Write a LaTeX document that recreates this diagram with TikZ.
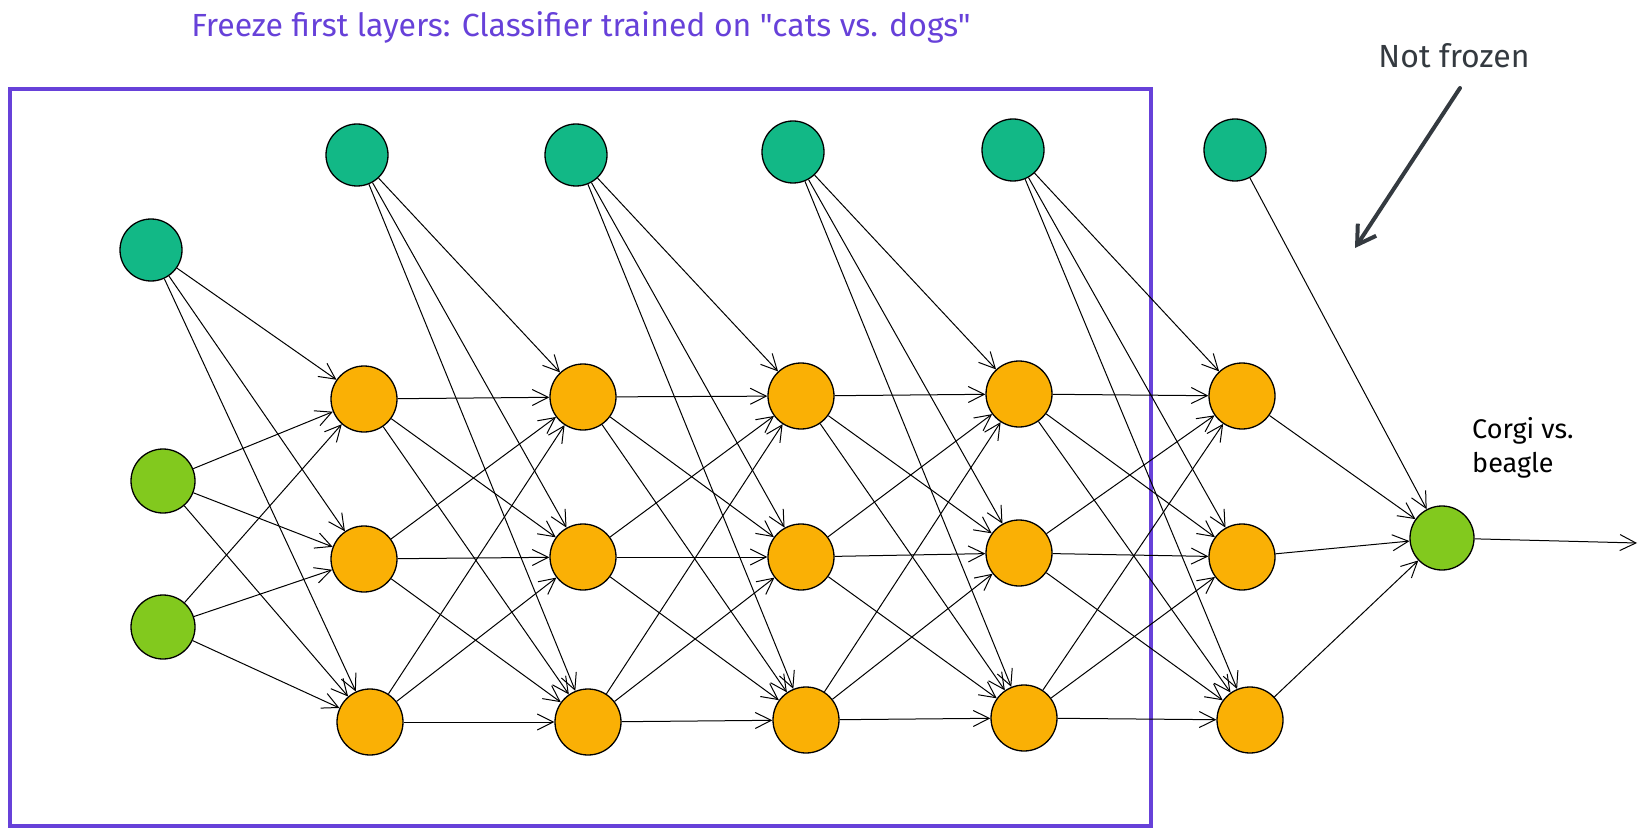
\documentclass[tikz,border=0pt]{standalone}
\usepackage{fontspec}
\setmainfont{Fira Sans}[Ligatures=TeXOff]
\usetikzlibrary{arrows.meta}
\definecolor{violetbox}{HTML}{6741D9}
\definecolor{tealnode}{HTML}{12B886}
\definecolor{limenode}{HTML}{82C91E}
\definecolor{yellownode}{HTML}{FAB005}
\definecolor{inkgray}{HTML}{343A40}
\tikzstyle{neuron} = [circle, draw=black, line width=1.3pt, inner sep=0pt, minimum size=64pt]
\tikzstyle{bias} = [neuron, fill=tealnode, minimum size=62pt]
\tikzstyle{inp} = [neuron, fill=limenode]
\tikzstyle{hid} = [neuron, fill=yellownode, minimum size=66pt]
\tikzstyle{link} = [-{Straight Barb[length=16pt,width=16pt]}, line width=1pt]
\tikzstyle{note} = [font=\fontsize{27}{34}\selectfont, inner sep=0pt]
\tikzstyle{bignote} = [note, font=\fontsize{32}{38}\selectfont]

\begin{document}
\begin{tikzpicture}[x=1pt, y=-1pt]
	\useasboundingbox (0,0) rectangle (1646,837);
	% frozen part
	\draw[violetbox, line width=4pt] (10,89) rectangle (1151,826);
	\node[bignote, text=violetbox] (title) at (581,27) {Freeze first layers: Classifier trained on "cats vs. dogs"};
	% input layer
	\node[bias] (b0) at (151,250) {};
	\node[inp] (x1) at (163,481) {};
	\node[inp] (x2) at (163,627) {};
	% hidden layers
	\node[bias] (b1) at (357,155) {};
	\node[hid] (h1-1) at (364,399) {};
	\node[hid] (h1-2) at (364,559) {};
	\node[hid] (h1-3) at (370,722) {};
	\node[bias] (b2) at (576,155) {};
	\node[hid] (h2-1) at (583,397) {};
	\node[hid] (h2-2) at (583,557) {};
	\node[hid] (h2-3) at (588,722) {};
	\node[bias] (b3) at (793,152) {};
	\node[hid] (h3-1) at (801,396) {};
	\node[hid] (h3-2) at (801,557) {};
	\node[hid] (h3-3) at (806,720) {};
	\node[bias] (b4) at (1013,150) {};
	\node[hid] (h4-1) at (1019,394) {};
	\node[hid] (h4-2) at (1019,553) {};
	\node[hid] (h4-3) at (1024,718) {};
	\node[bias] (b5) at (1235,150) {};
	\node[hid] (h5-1) at (1242,396) {};
	\node[hid] (h5-2) at (1242,557) {};
	\node[hid] (h5-3) at (1250,720) {};
	% output
	\node[inp] (y) at (1442,538) {};
	\coordinate (out) at (1637,543);
	% connections
	\foreach \s in {b0,x1,x2}
		\foreach \t in {1,2,3}
			\draw[link] (\s) -- (h1-\t);
	\foreach \k/\n in {1/2,2/3,3/4,4/5}
		\foreach \t in {1,2,3} {
			\draw[link] (b\k) -- (h\n-\t);
			\foreach \s in {1,2,3}
				\draw[link] (h\k-\s) -- (h\n-\t);
		}
	\foreach \s in {b5,h5-1,h5-2,h5-3}
		\draw[link] (\s) -- (y);
	\draw[link] (y) -- (out);
	% notes
	\node[bignote, text=inkgray] (frozen) at (1454,56) {Not frozen};
	\coordinate (nfa) at (1460,88);
	\coordinate (nfb) at (1355,248);
	\draw[inkgray, line width=4pt, line cap=round, -{Straight Barb[length=18pt,width=22pt]}] (nfa) -- (nfb);
	\node[note, align=left, anchor=west] (task) at (1472,448) {Corgi vs.\\beagle};
\end{tikzpicture}
\end{document}
